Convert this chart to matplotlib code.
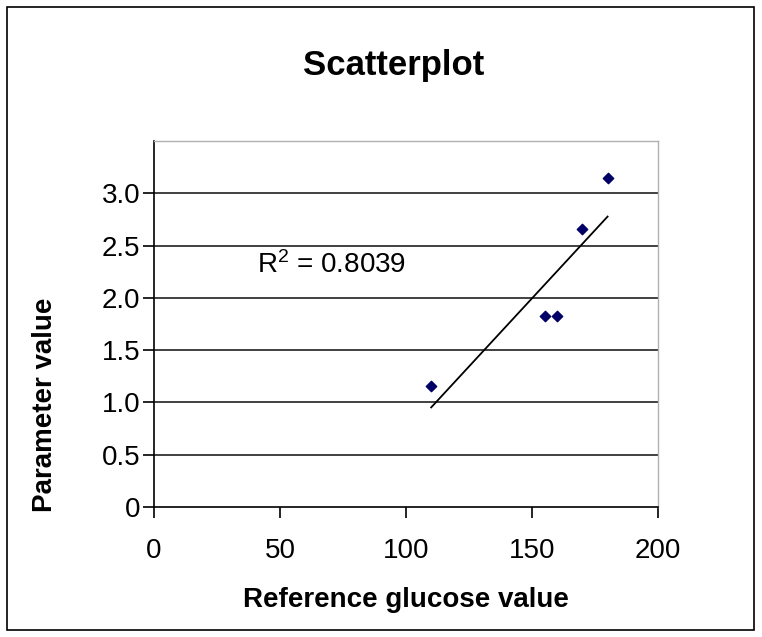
import matplotlib
matplotlib.use("Agg")
import matplotlib.pyplot as plt
import numpy as np
from matplotlib.patches import Rectangle

plt.rcParams["font.family"] = ["Liberation Sans", "DejaVu Sans"]
plt.rcParams["mathtext.default"] = "regular"

# data
glucose = [110, 155, 160, 170, 180]
param = [1.16, 1.83, 1.83, 2.66, 3.15]
r2_label = "R$^2$ = 0.8039"
x_ticks = [0, 50, 100, 150, 200]
y_ticks = [0, 0.5, 1.0, 1.5, 2.0, 2.5, 3.0]
y_tick_labels = ["0", "0.5", "1.0", "1.5", "2.0", "2.5", "3.0"]

fig = plt.figure(figsize=(7.62, 6.37), dpi=100)
ax = fig.add_axes([0.2021, 0.204, 0.6614, 0.5746])

# outer chart border
fig.patches.append(Rectangle((0.009, 0.011), 0.981, 0.978, transform=fig.transFigure,
                             fill=False, edgecolor="black", linewidth=1.2))

ax.set_xlim(0, 200)
ax.set_ylim(0, 3.5)

for yv in y_ticks[1:]:
    ax.axhline(yv, color="#404040", linewidth=1.4, zorder=1)

ax.scatter(glucose, param, marker="D", s=28, color="#000066", zorder=3)

# linear trend line
coef = np.polyfit(glucose, param, 1)
xs = np.array([min(glucose), max(glucose)])
ax.plot(xs, np.polyval(coef, xs), color="black", linewidth=1.3, zorder=2)

ax.text(41, 2.31, r2_label, fontsize=20, va="center", ha="left")

ax.set_xticks(x_ticks)
ax.set_yticks(y_ticks)
ax.set_yticklabels(y_tick_labels)
ax.tick_params(labelsize=20, direction="out", length=8, width=1.2, colors="black")
ax.tick_params(axis="x", pad=14)
ax.tick_params(axis="y", pad=2)

for side in ["top", "right"]:
    ax.spines[side].set_color("#b0b0b0")
    ax.spines[side].set_linewidth(1.0)
for side in ["left", "bottom"]:
    ax.spines[side].set_color("black")
    ax.spines[side].set_linewidth(1.2)

fig.text(406 / 762, 1 - 600 / 637, "Reference glucose value", fontsize=20,
         fontweight="bold", ha="center", va="center")
fig.text(45 / 762, 1 - 405 / 637, "Parameter value", fontsize=20,
         fontweight="bold", ha="center", va="center", rotation=90)
fig.text(394 / 762, 1 - 66 / 637, "Scatterplot", fontsize=25,
         fontweight="bold", ha="center", va="center")

fig.savefig("out.png", dpi=100)
